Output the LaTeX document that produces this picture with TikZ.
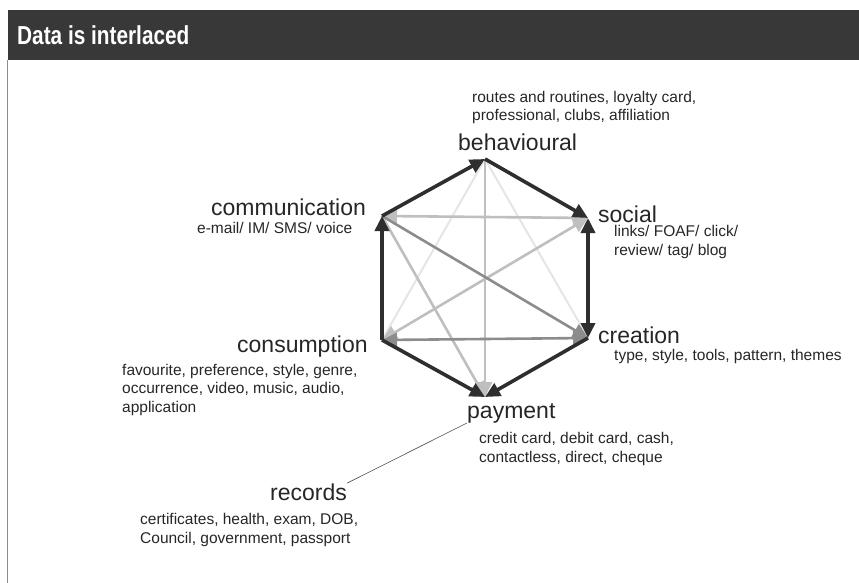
\documentclass[tikz,border=0pt]{standalone}
\usepackage{fontspec}
\setmainfont{Liberation Sans}
\newfontfamily\headfont[FakeStretch=0.8]{Liberation Sans}
\usetikzlibrary{arrows.meta}

\begin{document}
\begin{tikzpicture}[x=1pt,y=-1pt,
  every node/.style={inner sep=0pt},
  cat/.style={anchor=base west,font=\fontsize{23}{27}\selectfont,text=black!85},
  info/.style={anchor=base west,align=left,font=\fontsize{15.5}{18.5}\selectfont,text=black!85},
  tip/.style={-{Triangle[length=15pt,width=14pt]}},
  twotip/.style={{Triangle[length=15pt,width=14pt]}-{Triangle[length=15pt,width=14pt]}},
  rim/.style={draw=black!82,line width=3.6pt},
  mid/.style={draw=black!45,line width=2.6pt},
  lite/.style={draw=black!25,line width=2.6pt},
  faint/.style={draw=black!10,line width=2pt}]
\useasboundingbox (0,0) rectangle (859,583);
\fill [black!78] (8,10) rectangle (859,60);
\node [anchor=base west,text=white,font=\headfont\bfseries\fontsize{26}{30}\selectfont] (head) at (17,45) {Data is interlaced};
\draw [black!45,line width=0.6pt] (7,60) -- (7,583);

\coordinate (beh) at (485,159);
\coordinate (soc) at (588,218);
\coordinate (cre) at (588,338);
\coordinate (pay) at (485,397);
\coordinate (con) at (382,340);
\coordinate (com) at (382,216);

\draw [faint] (beh) -- (con);
\draw [faint] (beh) -- (cre);
\draw [lite,tip] (beh) -- (pay);
\draw [lite,tip] (com) -- (pay);
\draw [lite,twotip] (soc) -- (com);
\draw [lite,twotip] (soc) -- (con);
\draw [mid,twotip] (con) -- (cre);
\draw [mid,tip] (com) -- (cre);

\draw [rim,tip] (com) -- (beh);
\draw [rim,tip] (beh) -- (soc);
\draw [rim,twotip] (soc) -- (cre);
\draw [rim,tip] (cre) -- (pay);
\draw [rim,tip] (con) -- (pay);
\draw [rim,tip] (con) -- (com);

% info nodes sit on the baseline of their last line
\node [cat] (behlab) at (458,150) {behavioural};
\node [info] (behinfo) at (472,121) {routes and routines, loyalty card,\\professional, clubs, affiliation};
\node [cat] (comlab) at (211,215) {communication};
\node [info] (cominfo) at (197,233) {e-mail/ IM/ SMS/ voice};
\node [cat] (soclab) at (598,222) {social};
\node [info] (socinfo) at (614,255) {links/ FOAF/ click/\\review/ tag/ blog};
\node [cat] (crelab) at (598,343) {creation};
\node [info] (creinfo) at (614,360) {type, style, tools, pattern, themes};
\node [cat] (conlab) at (237,352) {consumption};
\node [info] (coninfo) at (122,412) {favourite, preference, style, genre,\\occurrence, video, music, audio,\\application};
\node [cat] (paylab) at (467,418) {payment};
\node [info] (payinfo) at (479,462) {credit card, debit card, cash,\\contactless, direct, cheque};
\node [cat] (reclab) at (270,500) {records};
\node [info] (recinfo) at (140,543) {certificates, health, exam, DOB,\\Council, government, passport};

\draw [black!70,line width=0.6pt] (reclab.north east) -- (paylab.south west);
\end{tikzpicture}
\end{document}
